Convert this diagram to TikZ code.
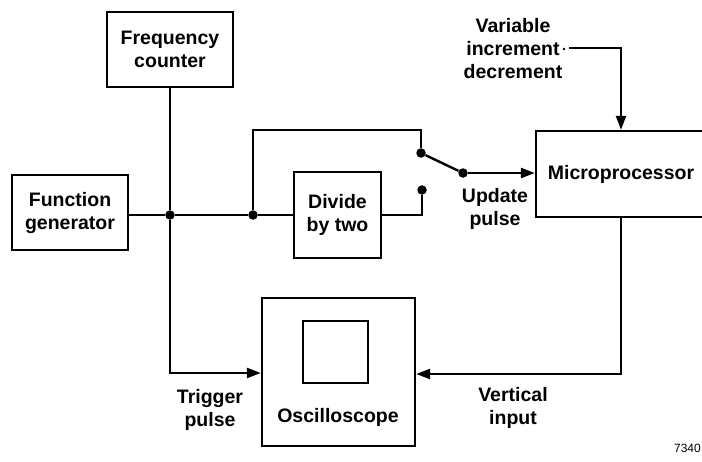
\documentclass[tikz,border=0pt]{standalone}
\usepackage{fontspec}
\setmainfont{Liberation Sans}
\usetikzlibrary{arrows.meta}
\begin{document}
\begin{tikzpicture}[x=1pt,y=-1pt,
  blk/.style={draw,line width=2.4pt,rectangle,inner sep=0pt,align=center,
    font=\fontsize{19.5}{23}\selectfont\bfseries},
  lbl/.style={align=center,inner sep=0pt,font=\fontsize{19.5}{23}\selectfont\bfseries},
  wire/.style={line width=2.4pt},
  arr/.style={wire,-{Triangle[length=14pt,width=10pt]}},
  jdot/.style={circle,fill=black,inner sep=0pt,minimum size=9.5pt}]
\useasboundingbox (0,0) rectangle (702,461);
\clip (0,0) rectangle (702,461);
% blocks
\node[blk,minimum width=126pt,minimum height=75pt] (fc) at (170,49.5) {Frequency\\counter};
\node[blk,minimum width=116pt,minimum height=75pt] (fg) at (70,212.5) {Function\\generator};
\node[blk,minimum width=87pt,minimum height=86pt] (div) at (337.5,215) {Divide\\by two};
\node[blk,minimum width=170pt,minimum height=86pt] (mp) at (621,174) {Microprocessor};
\node[blk,minimum width=153pt,minimum height=148pt] (osc) at (338.5,372) {};
\node[blk,minimum width=65pt,minimum height=62pt] (scr) at (335.5,352) {};
\node[lbl] (osct) at (338,417) {Oscilloscope};
% labels
\node[lbl] (var) at (513,49) {Variable\\increment\\decrement};
\node[lbl] (upd) at (495,209) {Update\\pulse};
\node[lbl] (trg) at (210,410) {Trigger\\pulse};
\node[lbl] (vin) at (513,408) {Vertical\\input};
\node[anchor=east,inner sep=0pt,font=\fontsize{12}{14}\selectfont] (num) at (701,448) {7340};
% junctions and switch contacts
\node[jdot] (j1) at (170,215) {};
\node[jdot] (j2) at (253,215) {};
\node[jdot] (up) at (421,153) {};
\node[jdot] (lo) at (422,190) {};
\node[jdot] (pv) at (463,173) {};
\node[circle,fill=black,inner sep=0pt,minimum size=2.8pt] (vd) at (564,49) {};
\coordinate (vs) at (569,48);
\coordinate (vc) at (621,48);
\coordinate (tc) at (170,373);
\coordinate (bc) at (621,374);
\coordinate (lt) at (253,130);
\coordinate (rt) at (421,130);
\coordinate (lb) at (422,215);
% wires
\draw[wire] (fg.east |- j1) -- (j1) -- (j2) -- (div.west |- j2);
\draw[wire] (fc.south) -- (j1);
\draw[arr] (j1) -- (tc) -- (osc.west |- tc);
\draw[wire] (j2) -- (lt) -- (rt) -- (up);
\draw[wire] (div.east |- lb) -- (lb) -- (lo);
\draw[wire] (up) -- (pv);
\draw[arr] (pv) -- (mp.west |- pv);
\draw[arr] (vs) -- (vc) -- (vc |- mp.north);
\draw[arr] (bc |- mp.south) -- (bc) -- (osc.east |- bc);
\end{tikzpicture}
\end{document}
